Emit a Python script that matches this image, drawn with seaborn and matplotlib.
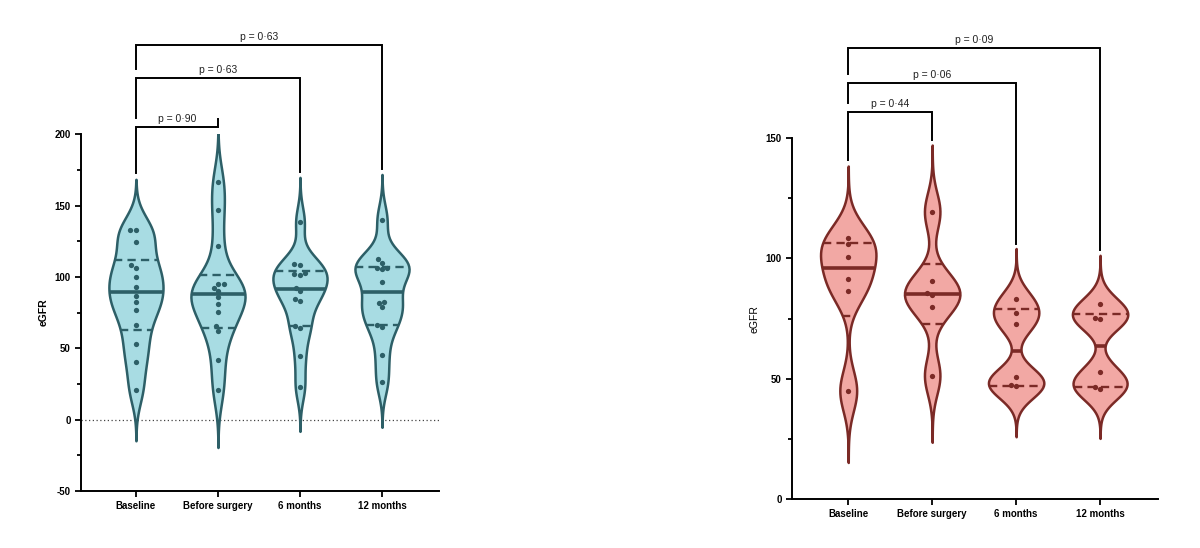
import numpy as np
import pandas as pd
import matplotlib.pyplot as plt
from matplotlib.collections import PolyCollection
from matplotlib.ticker import MultipleLocator
import seaborn as sns

groups = ['Baseline', 'Before surgery', '6 months', '12 months']

# left panel - eGFR values
left_baseline = [132.6, 132.6, 124.2, 108.1, 106.2, 99.7, 92.7, 86.8, 82.2, 76.6, 66.1, 53.0, 40.6, 21.0]
left_before = [166.5, 146.8, 121.8, 95.0, 95.0, 92.2, 90.0, 85.7, 81.0, 75.4, 65.4, 61.9, 41.5, 21.0]
left_6m = [138.6, 108.8, 108.3, 103.0, 101.8, 101.5, 92.6, 90.0, 84.6, 83.3, 65.6, 64.4, 44.3, 23.0]
left_12m = [140.1, 112.4, 110.0, 106.2, 106.0, 105.5, 96.2, 82.4, 81.7, 78.6, 66.5, 64.9, 45.0, 26.4]

# right panel
right_baseline = [108.6, 105.8, 100.7, 91.3, 86.6, 45.0]
right_before = [119.4, 90.5, 85.5, 84.8, 79.8, 51.3]
right_6m = [83.1, 77.4, 72.6, 50.6, 47.2, 46.9]
right_12m = [80.9, 75.3, 74.8, 52.6, 46.7, 45.6]

# pairs compared against baseline and their p values
comparisons = [(0, 1), (0, 2), (0, 3)]
left_p = ['0·90', '0·63', '0·63']
right_p = ['0·44', '0·06', '0·09']


def long_table(series):
    rows = []
    for g, vals in zip(groups, series):
        for v in vals:
            rows.append((g, v))
    return pd.DataFrame(rows, columns=['group', 'eGFR'])


def half_width(poly, center, yval):
    v = poly.get_paths()[0].vertices
    side = v[v[:, 0] >= center - 1e-9]
    order = np.argsort(side[:, 1])
    return np.interp(yval, side[order, 1], side[order, 0]) - center


def draw_panel(ax, df, fill, edge, pvals, levels, ylim, ylabel_weight, bw, cut):
    sns.violinplot(data=df, x='group', y='eGFR', order=groups, inner=None,
                   density_norm='width', width=0.66, color=fill, linecolor=edge,
                   linewidth=1.8, saturation=1, cut=cut, bw_adjust=bw, ax=ax)
    polys = [c for c in ax.collections if isinstance(c, PolyCollection)]

    # median + quartiles (GraphPad style percentiles)
    for i, g in enumerate(groups):
        vals = df.loc[df.group == g, 'eGFR'].values
        q1, med, q3 = np.percentile(vals, [25, 50, 75], method='weibull')
        for q, ls, lw in [(q1, (0, (3.5, 2.2)), 1.7), (q3, (0, (3.5, 2.2)), 1.7), (med, '-', 2.6)]:
            hw = half_width(polys[i], i, q)
            ax.plot([i - hw, i + hw], [q, q], color=edge, lw=lw, ls=ls, zorder=3,
                    solid_capstyle='butt', dash_capstyle='butt')

    sns.swarmplot(data=df, x='group', y='eGFR', order=groups, color=edge,
                  size=3.8, ax=ax, zorder=4)

    ax.set_ylim(*ylim)
    ax.set_xlim(-0.67, 3.69)
    ax.yaxis.set_major_locator(MultipleLocator(50))
    ax.yaxis.set_minor_locator(MultipleLocator(25))
    sns.despine(ax=ax)
    for s in ['left', 'bottom']:
        ax.spines[s].set_linewidth(1.4)
        ax.spines[s].set_color('black')
    ax.tick_params(axis='both', which='major', length=4.5, width=1.3, color='black',
                   labelsize=7, pad=3)
    ax.tick_params(axis='y', which='minor', length=3, width=1.3, color='black')
    for lab in ax.get_xticklabels() + ax.get_yticklabels():
        lab.set_fontweight('bold')
    ax.set_xlabel('')
    ax.set_ylabel('eGFR', fontsize=7.5, fontweight=ylabel_weight)
    ax.yaxis.set_label_coords(-0.09, 0.5)

    # brackets above the violins
    trans = ax.get_xaxis_transform()
    to_axes = ax.transData + ax.transAxes.inverted()
    px = 1.0 / ax.bbox.height
    tops = [to_axes.transform((0, p.get_paths()[0].vertices[:, 1].max()))[1] for p in polys]
    for k, ((a, b), p, lev) in enumerate(zip(comparisons, pvals, levels)):
        left_bottom = tops[a] + 6 * px if k == 0 else levels[k - 1] + 9 * px
        right_bottom = tops[b] + 5 * px
        ax.plot([a, a, b, b], [left_bottom, lev, lev, right_bottom], color='black',
                lw=1.4, transform=trans, clip_on=False, solid_joinstyle='miter')
        ax.text((a + b) / 2, lev + 3 * px, 'p = ' + p, transform=trans, ha='center',
                va='bottom', fontsize=7.5, color='#222222')


plt.rcParams['font.family'] = ['Liberation Sans', 'DejaVu Sans']
plt.rcParams['axes.unicode_minus'] = False

fig = plt.figure(figsize=(12, 5.48), dpi=100)
ax1 = fig.add_axes([0.0675, 0.104, 0.298, 0.651])
ax2 = fig.add_axes([0.66, 0.0894, 0.305, 0.6585])

left_df = long_table([left_baseline, left_before, left_6m, left_12m])
right_df = long_table([right_baseline, right_before, right_6m, right_12m])

ax1.axhline(0, color='#444444', lw=0.9, ls=(0, (1, 2)), zorder=0)
draw_panel(ax1, left_df, '#A8DCE3', '#2D5F67', left_p, [1.020, 1.157, 1.249], (-50, 200),
           'bold', 0.6, 3)
draw_panel(ax2, right_df, '#F2A8A4', '#7B2A26', right_p, [1.072, 1.152, 1.249], (0, 150),
           'normal', 0.52, 3.5)

fig.savefig('out.png', dpi=100, facecolor='white')
